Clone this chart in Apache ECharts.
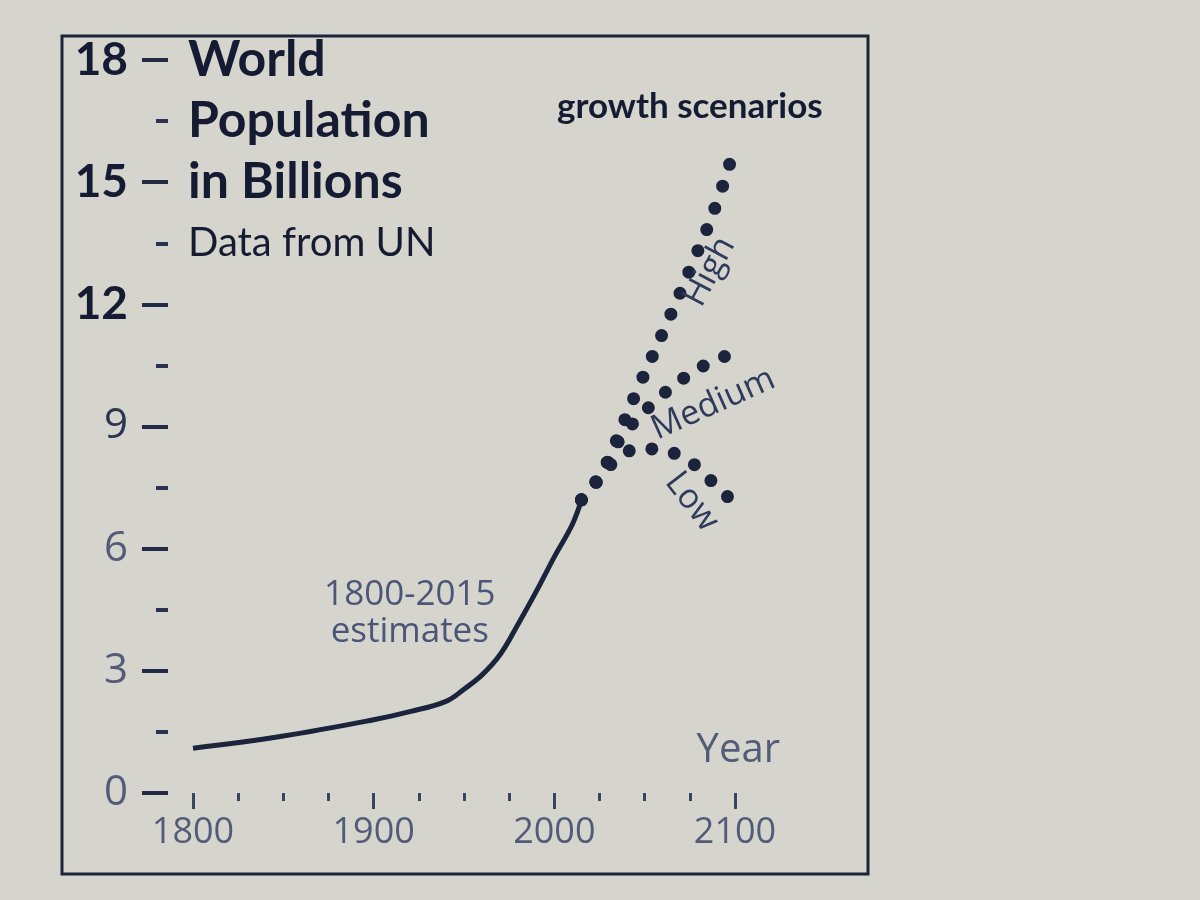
<!DOCTYPE html>
<html>
<head>
<meta charset="utf-8">
<title>World Population - growth scenarios</title>
<script src="https://cdn.jsdelivr.net/npm/echarts@6/dist/echarts.min.js"></script>
<style>
  html, body { margin: 0; padding: 0; background: #d6d5cd; }
  #chart { width: 1200px; height: 900px; }
</style>
</head>
<body>
<div id="chart"></div>
<script>
  // 1800-2015 estimates, billions
  const estYears = [1800, 1850, 1900, 1920, 1940, 1950, 1960, 1970, 1980, 1990, 2000, 2010, 2015]
  const estValues = [1.1, 1.4, 1.8, 2.0, 2.25, 2.55, 2.9, 3.4, 4.15, 4.95, 5.8, 6.6, 7.2]

  // growth scenarios
  const highYears = [2015, 2025, 2030, 2045, 2060, 2075, 2090, 2100]
  const highValues = [7.2, 7.75, 8.2, 9.8, 11.3, 12.85, 14.5, 15.9]
  const medYears = [2015, 2025, 2035, 2045, 2053, 2062, 2072, 2083, 2093, 2100]
  const medValues = [7.2, 7.75, 8.6, 9.15, 9.5, 9.86, 10.2, 10.5, 10.7, 10.8]
  const lowYears = [2015, 2025, 2035, 2045, 2056, 2067, 2077, 2086, 2100]
  const lowValues = [7.2, 7.75, 8.2, 8.43, 8.45, 8.33, 8.08, 7.7, 7.1]

  // axis ticks
  const xTicks = [1800, 1900, 2000, 2100]
  const yTicks = [0, 3, 6, 9, 12, 15, 18]

  const ink = '#1c233d'
  const grey = '#525c78'

  const pairs = (xs, ys) => xs.map((x, i) => [x, ys[i]])

  // dots drawn as a zero-length dash pattern with round caps
  const dotted = (name, xs, ys) => ({
    name: name,
    type: 'line',
    smooth: true,
    showSymbol: false,
    lineStyle: { color: ink, width: 13, type: [0, 23], cap: 'round' },
    data: pairs(xs, ys)
  })

  const chart = echarts.init(document.getElementById('chart'))
  const option = {
    backgroundColor: '#d6d5cd',
    animation: false,
    grid: { left: 193, right: 465, top: 60, bottom: 107 },
    xAxis: {
      type: 'value',
      min: xTicks[0],
      max: xTicks[xTicks.length - 1],
      interval: xTicks[1] - xTicks[0],
      axisLine: { show: false },
      splitLine: { show: false },
      axisTick: { show: true, length: 16, lineStyle: { color: '#3a4461', width: 3 } },
      minorTick: { show: true, splitNumber: 4, length: 8, lineStyle: { color: '#3a4461', width: 3 } },
      axisLabel: {
        color: grey, fontSize: 36, fontFamily: 'Open Sans', margin: 22,
        formatter: function (v) { return String(v) }
      }
    },
    yAxis: {
      type: 'value',
      min: yTicks[0],
      max: yTicks[yTicks.length - 1],
      interval: yTicks[1] - yTicks[0],
      offset: 25,
      axisLine: { show: false },
      splitLine: { show: false },
      axisTick: { show: true, length: 26, lineStyle: { color: '#222a45', width: 4 } },
      minorTick: { show: true, splitNumber: 2, length: 12, lineStyle: { color: '#2a3350', width: 4 } },
      axisLabel: {
        margin: 40,
        formatter: function (v) {
          if (v >= 12) return '{b|' + v + '}'
          if (v === 9) return '{m|' + v + '}'
          return '{n|' + v + '}'
        },
        rich: {
          b: { fontSize: 46, fontWeight: 'bold', fontFamily: 'Lato', color: '#151b32' },
          m: { fontSize: 42, fontFamily: 'Open Sans', color: '#2c3552' },
          n: { fontSize: 42, fontFamily: 'Open Sans', color: grey }
        }
      }
    },
    series: [
      dotted('High', highYears, highValues),
      dotted('Medium', medYears, medValues),
      dotted('Low', lowYears, lowValues),
      {
        name: '1800-2015 estimates',
        type: 'line',
        smooth: 0.4,
        showSymbol: false,
        lineStyle: { color: ink, width: 5 },
        data: pairs(estYears, estValues)
      }
    ]
  }
  chart.setOption(option)

  // annotations placed through the chart's own scales
  const px = (x, y) => chart.convertToPixel({ gridIndex: 0 }, [x, y])
  const axisX = px(xTicks[0], 0)[0] - 25

  function label(text, pos, font, color, align, rotation) {
    return {
      type: 'text',
      x: pos[0],
      y: pos[1],
      rotation: rotation || 0,
      z: 10,
      style: {
        text: text, font: font, fill: color,
        align: align, textAlign: align,
        verticalAlign: 'middle', textVerticalAlign: 'middle'
      }
    }
  }

  const deg = Math.PI / 180
  const graphic = [
    {
      type: 'rect',
      z: -1,
      shape: { x: 62, y: 36, width: 806, height: 838 },
      style: { fill: 'none', stroke: '#1d2438', lineWidth: 3 }
    },
    label('World', [axisX + 20, px(1800, 18)[1]], 'bold 50px Lato', '#151b32', 'left'),
    label('Population', [axisX + 20, px(1800, 16.5)[1]], 'bold 50px Lato', '#151b32', 'left'),
    label('in Billions', [axisX + 20, px(1800, 15)[1]], 'bold 50px Lato', '#151b32', 'left'),
    label('Data from UN', [axisX + 20, px(1800, 13.5)[1]], '40px Lato', '#151b32', 'left'),
    label('growth scenarios', px(2075, 16.85), 'bold 35px Lato', '#151b32', 'center'),
    label('1800-2015', px(1920, 4.85), '35px Open Sans', '#4a5578', 'center'),
    label('estimates', px(1920, 3.95), '35px Open Sans', '#4a5578', 'center'),
    label('High', px(2086, 12.8), '34px Open Sans', '#2f3b5c', 'center', 62 * deg),
    label('Medium', px(2088, 9.55), '34px Open Sans', '#2f3b5c', 'center', 24 * deg),
    label('Low', px(2076, 7.15), '34px Open Sans', '#2f3b5c', 'center', -52 * deg),
    label('Year', [px(2100, 0)[0] + 45, px(2100, 1.05)[1]], '40px Open Sans', grey, 'right')
  ]
  chart.setOption({ graphic: graphic })
</script>
</body>
</html>
